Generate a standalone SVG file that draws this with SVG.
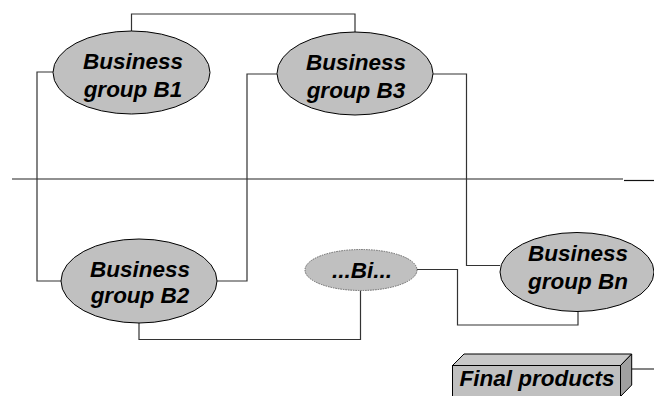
<svg xmlns="http://www.w3.org/2000/svg" width="654" height="396" viewBox="0 0 654 396">
<style>
.conn{fill:none;stroke:#333;stroke-width:1.2}
.ell{fill:#c0c0c0;stroke:#000;stroke-width:1}
.lbl{font-family:"Liberation Sans",Arial,sans-serif;font-weight:bold;font-style:italic;font-size:22.5px;fill:#000;text-anchor:middle}
</style>
<rect width="654" height="396" fill="#fff"/>
<g id="connectors">
<line class="conn" x1="12" y1="179" x2="623" y2="179" style="stroke:#222"/>
<line class="conn" x1="624" y1="180.5" x2="654" y2="180.5" style="stroke:#111"/>
<polyline class="conn" points="131.5,31 131.5,14 355,14 355,32"/>
<polyline class="conn" points="53,72 37,72 37,281 61,281"/>
<polyline class="conn" points="277,74 247,74 247,281 217,281"/>
<polyline class="conn" points="433,74 466.5,74 466.5,265.5 500,265.5"/>
<polyline class="conn" points="139,323 139,339.5 360.5,339.5 360.5,290.5"/>
<polyline class="conn" points="417,269.5 457.5,269.5 457.5,325 578,325 578,311.5"/>
<line class="conn" x1="632" y1="369" x2="654" y2="369"/>
</g>
<g id="B1">
<ellipse class="ell" cx="131.5" cy="72.5" rx="78.5" ry="41.5"/>
<text class="lbl" x="133" y="68.5">Business</text>
<text class="lbl" x="133" y="96.5">group B1</text>
</g>
<g id="B3">
<ellipse class="ell" cx="355" cy="73.5" rx="78" ry="41.5"/>
<text class="lbl" x="356" y="69.5">Business</text>
<text class="lbl" x="356" y="97.5">group B3</text>
</g>
<g id="B2">
<ellipse class="ell" cx="139" cy="281" rx="78" ry="42"/>
<text class="lbl" x="140" y="276.5">Business</text>
<text class="lbl" x="140" y="302.5">group B2</text>
</g>
<g id="Bi">
<ellipse class="ell" cx="361" cy="270" rx="56" ry="20.5" style="stroke:#666;stroke-dasharray:1.5 1"/>
<text class="lbl" x="362" y="277.5">...Bi...</text>
</g>
<g id="Bn">
<ellipse class="ell" cx="577" cy="272" rx="77" ry="39.5"/>
<text class="lbl" x="578" y="260.5">Business</text>
<text class="lbl" x="578" y="288.5">group Bn</text>
</g>
<g id="final">
<polygon points="452.5,365.5 464,354 631.7,354 620.5,365.5" fill="#c8c8c8" stroke="#000" stroke-width="1"/>
<polygon points="620.5,365.5 631.7,354 631.7,385 620.5,396.5" fill="#a0a0a0" stroke="#000" stroke-width="1"/>
<rect x="452.5" y="365.5" width="168" height="32" fill="#c0c0c0" stroke="#000" stroke-width="1"/>
<text class="lbl" x="537" y="385.5">Final products</text>
</g>
</svg>
